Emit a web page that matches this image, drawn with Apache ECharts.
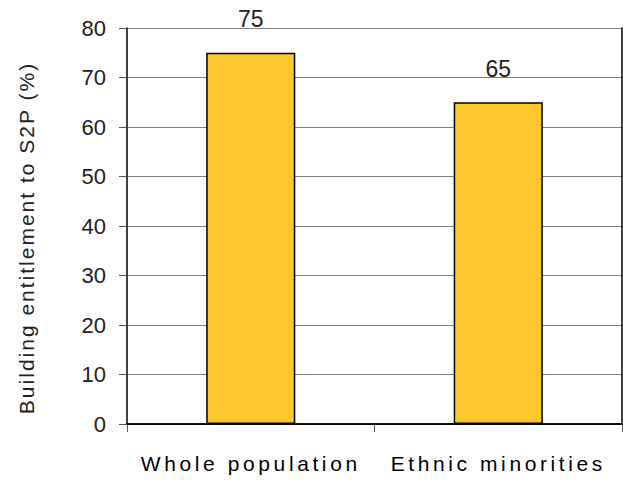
<!DOCTYPE html>
<html>
<head>
<meta charset="utf-8">
<script src="https://cdn.jsdelivr.net/npm/echarts@6/dist/echarts.min.js"></script>
<style>
  html, body { margin: 0; padding: 0; background: #fff; }
  #chart { width: 623px; height: 480px; }
  /* spaced-out text, as in the original */
  #chart text[fill="#000001"], #chart text[fill="rgb(0,0,1)"] { letter-spacing: 3.6px; }
  #chart text[fill="#222223"], #chart text[fill="rgb(34,34,35)"] { letter-spacing: 2px; }
</style>
</head>
<body>
<div id="chart"></div>
<script>
var categories = ['Whole population', 'Ethnic minorities'];
var values = [75, 65];
var yTicks = [0, 80, 10]; // min, max, step

var chart = echarts.init(document.getElementById('chart'), null, { renderer: 'svg' });
var font = 'Liberation Sans, Arial, sans-serif';

var option = {
    animation: false,
    grid: { left: 127, right: 1, top: 28, bottom: 56 },
    xAxis: [{
        type: 'category',
        data: categories,
        axisLine: { lineStyle: { color: '#000', width: 1.5 } },
        axisTick: { show: true, length: 8, lineStyle: { color: '#555' } },
        axisLabel: { color: '#000001', fontSize: 21, fontFamily: font, margin: 29 }
    }, {
        type: 'category',
        position: 'top',
        data: categories,
        z: 5,
        axisLine: { lineStyle: { color: '#000', width: 1.5 } },
        axisTick: { show: false },
        axisLabel: { show: false }
    }],
    yAxis: [{
        type: 'value',
        min: yTicks[0],
        max: yTicks[1],
        interval: yTicks[2],
        name: 'Building entitlement to S2P (%)',
        nameLocation: 'middle',
        nameGap: 90,
        nameTextStyle: { color: '#222223', fontSize: 21, fontFamily: font, padding: [0, 24, 0, 0] },
        axisLine: { show: true, lineStyle: { color: '#000', width: 1.5 } },
        axisTick: { show: true, length: 8, lineStyle: { color: '#555' } },
        axisLabel: { color: '#222', fontSize: 22, fontFamily: font, margin: 21 },
        splitLine: { lineStyle: { color: '#808080', width: 1 } }
    }, {
        type: 'value',
        position: 'right',
        min: yTicks[0],
        max: yTicks[1],
        z: 5,
        axisLine: { show: true, lineStyle: { color: '#000', width: 1.5 } },
        axisTick: { show: false },
        axisLabel: { show: false },
        splitLine: { show: false }
    }],
    series: [{
        type: 'bar',
        data: values,
        barWidth: '36%',
        itemStyle: { color: '#FDC82D', borderColor: '#000', borderWidth: 1.5 },
        label: {
            show: true,
            position: 'top',
            distance: 22,
            color: '#222',
            fontSize: 23,
            fontFamily: font
        }
    }]
};

chart.setOption(option);
</script>
</body>
</html>
